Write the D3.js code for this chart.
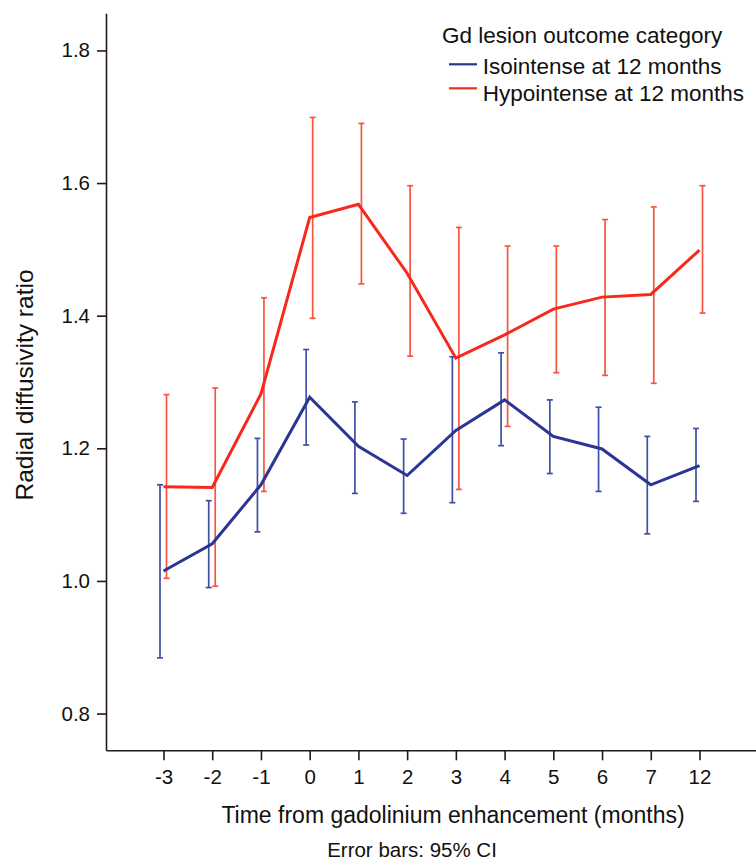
<!DOCTYPE html>
<html>
<head>
<meta charset="utf-8">
<script src="https://cdn.jsdelivr.net/npm/d3@7"></script>
<style>
  body { margin: 0; background: #fff; }
  text { font-family: "Liberation Sans", Arial, sans-serif; fill: #111; }
  .axis path, .axis line { stroke: #231815; stroke-width: 1.6; }
  .axis text { font-size: 20.5px; }
</style>
</head>
<body>
<script>
// months from gadolinium enhancement (categorical)
var months = ["-3", "-2", "-1", "0", "1", "2", "3", "4", "5", "6", "7", "12"];
var yTicks = [0.8, 1.0, 1.2, 1.4, 1.6, 1.8];

// isointense at 12 months: mean and 95% CI
var isoMean  = [1.015, 1.056, 1.145, 1.277, 1.203, 1.159, 1.227, 1.273, 1.218, 1.199, 1.145, 1.174];
var isoLow   = [0.884, 0.990, 1.074, 1.205, 1.132, 1.102, 1.118, 1.204, 1.162, 1.135, 1.071, 1.120];
var isoHigh  = [1.145, 1.121, 1.215, 1.349, 1.270, 1.214, 1.338, 1.344, 1.273, 1.262, 1.218, 1.230];

// hypointense at 12 months: mean and 95% CI
var hypoMean = [1.142, 1.141, 1.282, 1.548, 1.568, 1.464, 1.336, 1.371, 1.410, 1.428, 1.432, 1.499];
var hypoLow  = [1.004, 0.992, 1.135, 1.396, 1.448, 1.339, 1.138, 1.233, 1.314, 1.310, 1.298, 1.404];
var hypoHigh = [1.281, 1.291, 1.427, 1.699, 1.690, 1.596, 1.533, 1.505, 1.505, 1.545, 1.564, 1.596];

var seriesNames = ["Isointense at 12 months", "Hypointense at 12 months"];

var width = 756, height = 863;

var svg = d3.select("body").append("svg")
    .attr("width", width)
    .attr("height", height);

// scales
var x = d3.scalePoint().domain(months).range([106, 757]).padding(1.18);
var y = d3.scaleLinear().domain([0.7446, 1.856]).range([750.3, 13.3]);

// build series rows from the arrays
function rows(mean, lo, hi) {
    return months.map(function(m, i) { return { m: m, v: mean[i], lo: lo[i], hi: hi[i] }; });
}
var series = [
    { name: seriesNames[1], data: rows(hypoMean, hypoLow, hypoHigh), line: "#f7291d", bar: "#f8553f", off: 3 },
    { name: seriesNames[0], data: rows(isoMean, isoLow, isoHigh), line: "#2b3593", bar: "#3f4fa6", off: -3.5 }
];

// axes
svg.append("g")
    .attr("class", "axis")
    .attr("transform", "translate(106,0)")
    .call(d3.axisLeft(y).tickValues(yTicks).tickFormat(d3.format(".1f")).tickSize(9).tickSizeOuter(0).tickPadding(7));

svg.append("g")
    .attr("class", "axis")
    .attr("transform", "translate(0,750.3)")
    .call(d3.axisBottom(x).tickSize(10).tickSizeOuter(0).tickPadding(9));

// error bars first
series.forEach(function(s) {
    var g = svg.append("g").attr("stroke", s.bar).attr("stroke-width", 1.7).attr("fill", "none");
    var bars = g.selectAll("g").data(s.data).enter().append("g");
    bars.append("line")
        .attr("x1", function(d) { return x(d.m) + s.off; })
        .attr("x2", function(d) { return x(d.m) + s.off; })
        .attr("y1", function(d) { return y(d.lo); })
        .attr("y2", function(d) { return y(d.hi); });
    bars.append("line")
        .attr("x1", function(d) { return x(d.m) + s.off - 3; })
        .attr("x2", function(d) { return x(d.m) + s.off + 3; })
        .attr("y1", function(d) { return y(d.lo); })
        .attr("y2", function(d) { return y(d.lo); });
    bars.append("line")
        .attr("x1", function(d) { return x(d.m) + s.off - 3; })
        .attr("x2", function(d) { return x(d.m) + s.off + 3; })
        .attr("y1", function(d) { return y(d.hi); })
        .attr("y2", function(d) { return y(d.hi); });
});

// mean lines on top
var line = d3.line().x(function(d) { return x(d.m); }).y(function(d) { return y(d.v); });
series.forEach(function(s) {
    svg.append("path")
        .datum(s.data)
        .attr("d", line)
        .attr("fill", "none")
        .attr("stroke", s.line)
        .attr("stroke-width", 3)
        .attr("stroke-linejoin", "miter");
});

// legend
var legend = svg.append("g");
legend.append("text").attr("x", 442).attr("y", 43.3).attr("font-size", 22.5).text("Gd lesion outcome category");
[series[1], series[0]].forEach(function(s, i) {
    var yy = 64.3 + i * 24;
    legend.append("line")
        .attr("x1", 449).attr("x2", 477).attr("y1", yy).attr("y2", yy)
        .attr("stroke", s.line).attr("stroke-width", 2.2);
    legend.append("text").attr("x", 482.7).attr("y", 74.3 + i * 26.7).attr("font-size", 22.5).text(s.name);
});

// axis titles
svg.append("text")
    .attr("transform", "translate(33,385) rotate(-90)")
    .attr("text-anchor", "middle")
    .attr("font-size", 24.5)
    .text("Radial diffusivity ratio");

svg.append("text")
    .attr("x", 453).attr("y", 823)
    .attr("text-anchor", "middle")
    .attr("font-size", 23)
    .text("Time from gadolinium enhancement (months)");

svg.append("text")
    .attr("x", 412).attr("y", 857)
    .attr("text-anchor", "middle")
    .attr("font-size", 20.5)
    .text("Error bars: 95% CI");
</script>
</body>
</html>
